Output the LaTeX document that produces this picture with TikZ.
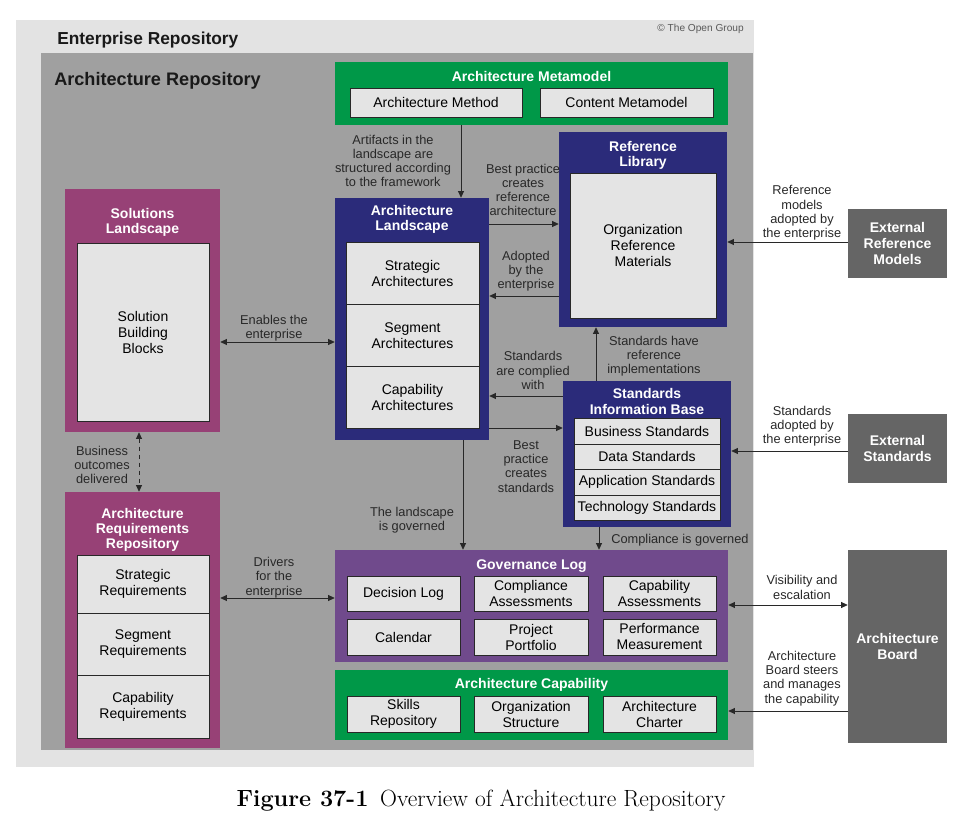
\documentclass[tikz,border=0pt]{standalone}
\usepackage{fontspec}
\setsansfont{Liberation Sans}
\usetikzlibrary{arrows.meta,fit}

\definecolor{entgrey}{RGB}{227,227,227}
\definecolor{arcgrey}{RGB}{160,160,160}
\definecolor{cellgrey}{RGB}{228,228,228}
\definecolor{mmgreen}{RGB}{0,152,72}
\definecolor{lsnavy}{RGB}{43,43,122}
\definecolor{slmagenta}{RGB}{151,65,118}
\definecolor{glpurple}{RGB}{112,74,140}
\definecolor{extgrey}{RGB}{101,101,101}
\definecolor{inkgrey}{RGB}{40,40,40}

\tikzset{
  panel/.style={fill=#1, inner sep=0pt},
  boxsize/.style 2 args={minimum width=#1*0.75pt, minimum height=#2*0.75pt},
  cell/.style={fill=cellgrey, draw=inkgrey, line width=0.6pt, inner sep=0pt, align=center, text=black, font=\sffamily\fontsize{10.5}{12}\selectfont},
  paneltitle/.style={text=white, align=center, inner sep=0pt, font=\sffamily\bfseries\fontsize{10.5}{11.3}\selectfont},
  extbox/.style={fill=extgrey, inner sep=0pt, text=white, align=center, font=\sffamily\bfseries\fontsize{10.5}{12}\selectfont},
  arrlabel/.style={align=center, text=inkgrey, inner sep=0pt, font=\sffamily\fontsize{9.6}{10.7}\selectfont},
  arr/.style={draw=inkgrey, line width=0.6pt, -{Triangle[length=5pt,width=4.5pt]}},
  darr/.style={arr, {Triangle[length=5pt,width=4.5pt]}-{Triangle[length=5pt,width=4.5pt]}},
}

\begin{document}
\begin{tikzpicture}[x=0.75pt, y=-0.75pt]
\useasboundingbox (0,0) rectangle (975,830);

% repositories
\node[panel=entgrey, fit={(16,20) (754,767)}] (ent) {};
\node[panel=arcgrey, fit={(41,53) (753,750)}] (arc) {};
\node[anchor=west, inner sep=0pt, text=black!90, font=\sffamily\bfseries\fontsize{13}{15}\selectfont] (entlbl) at (57,40) {Enterprise Repository};
\node[anchor=west, inner sep=0pt, text=black!90, font=\sffamily\bfseries\fontsize{13.6}{15}\selectfont] (arclbl) at (54,81) {Architecture Repository};
\node[anchor=east, inner sep=0pt, text=black!65, font=\sffamily\fontsize{7.6}{9}\selectfont] (copy) at (744,29) {\textcopyright{} The Open Group};

% architecture metamodel
\node[panel=mmgreen, fit={(335,62) (728,125)}] (meta) {};
\node[paneltitle] (metalbl) at (531.5,76.5) {Architecture Metamodel};
\node[cell, boxsize={172}{29}] (amethod) at (436,102.5) {Architecture Method};
\node[cell, boxsize={173}{29}] (cmeta) at (626.5,102.5) {Content Metamodel};

% architecture landscape
\node[panel=lsnavy, fit={(335,198) (489,440)}] (land) {};
\node[paneltitle] (landlbl) at (412,219) {Architecture\\Landscape};
\node[cell, boxsize={133}{62}] (lstrat) at (412.5,273.5) {Strategic\\Architectures};
\node[cell, boxsize={133}{62}] (lseg) at (412.5,335.5) {Segment\\Architectures};
\node[cell, boxsize={133}{62}] (lcap) at (412.5,397.5) {Capability\\Architectures};

% reference library
\node[panel=lsnavy, fit={(559,132) (727,327)}] (reflib) {};
\node[paneltitle] (reflbl) at (643,155.5) {Reference\\Library};
\node[cell, boxsize={146}{145}] (refmat) at (643,245.5) {Organization\\Reference\\Materials};

% solutions landscape
\node[panel=slmagenta, fit={(65,189) (220,432)}] (sol) {};
\node[paneltitle] (sollbl) at (142.5,222) {Solutions\\Landscape};
\node[cell, boxsize={132}{178}] (sbb) at (143,332) {Solution\\Building\\Blocks};

% architecture requirements repository
\node[panel=slmagenta, fit={(65,492) (220,748)}] (req) {};
\node[paneltitle] (reqlbl) at (142.5,529.5) {Architecture\\Requirements\\Repository};
\node[cell, boxsize={132}{58}] (rstrat) at (143,584) {Strategic\\Requirements};
\node[cell, boxsize={132}{62}] (rseg) at (143,644) {Segment\\Requirements};
\node[cell, boxsize={132}{63}] (rcap) at (143,706.5) {Capability\\Requirements};

% standards information base
\node[panel=lsnavy, fit={(563,381) (731,527)}] (sib) {};
\node[paneltitle] (siblbl) at (647,401.5) {Standards\\Information Base};
\node[cell, boxsize={146}{26}] (sbus) at (647,431) {Business Standards};
\node[cell, boxsize={146}{25}] (sdata) at (647,456.5) {Data Standards};
\node[cell, boxsize={146}{26}] (sapp) at (647,482) {Application Standards};
\node[cell, boxsize={146}{25}] (stech) at (647,507.5) {Technology Standards};

% governance log
\node[panel=glpurple, fit={(335,550) (728,662)}] (gov) {};
\node[paneltitle] (govlbl) at (531.5,566) {Governance Log};
\node[cell, boxsize={113}{35}] (declog) at (403.5,593.5) {Decision Log};
\node[cell, boxsize={114}{35}] (compass) at (531,593.5) {Compliance\\Assessments};
\node[cell, boxsize={113}{35}] (capass) at (659.5,593.5) {Capability\\Assessments};
\node[cell, boxsize={113}{36}] (calendar) at (403.5,637) {Calendar};
\node[cell, boxsize={114}{36}] (portfolio) at (531,637) {Project\\Portfolio};
\node[cell, boxsize={113}{36}] (perf) at (659.5,637) {Performance\\Measurement};

% architecture capability
\node[panel=mmgreen, fit={(335,670) (728,740)}] (cap) {};
\node[paneltitle] (caplbl) at (531.5,685) {Architecture Capability};
\node[cell, boxsize={113}{36}] (skills) at (403.5,714) {Skills\\Repository};
\node[cell, boxsize={114}{36}] (orgstr) at (531,714) {Organization\\Structure};
\node[cell, boxsize={113}{36}] (charter) at (659.5,714) {Architecture\\Charter};

% external
\node[extbox, boxsize={99}{69}] (extref) at (897.5,243.5) {External\\Reference\\Models};
\node[extbox, boxsize={99}{69}] (extstd) at (897.5,448.5) {External\\Standards};
\node[extbox, boxsize={99}{193}] (board) at (897.5,646.5) {Architecture\\Board};

% connectors
\draw[arr] (meta.south -| 461,0) -- (land.north -| 461,0);
\draw[arr] (land.east |- 0,224) -- (reflib.west |- 0,224);
\draw[arr] (reflib.west |- 0,296) -- (land.east |- 0,296);
\draw[arr] (extref.west |- 0,242) -- (reflib.east |- 0,242);
\draw[darr] (sol.east |- 0,342) -- (land.west |- 0,342);
\draw[darr, dashed] (sol.south -| 139,0) -- (req.north -| 139,0);
\draw[darr] (req.east |- 0,598) -- (gov.west |- 0,598);
\draw[arr] (land.south -| 463,0) -- (gov.north -| 463,0);
\draw[arr] (sib.north -| 596,0) -- (reflib.south -| 596,0);
\draw[arr] (sib.west |- 0,396) -- (land.east |- 0,396);
\draw[arr] (land.east |- 0,428) -- (sib.west |- 0,428);
\draw[arr] (extstd.west |- 0,451) -- (sib.east |- 0,451);
\draw[arr] (sib.south -| 599,0) -- (gov.north -| 599,0);
\draw[darr] (gov.east |- 0,605) -- (board.west |- 0,605);
\draw[arr] (board.west |- 0,711) -- (cap.east |- 0,711);

% connector labels
\node[arrlabel] (lblart) at (393,161) {Artifacts in the\\landscape are\\structured according\\to the framework};
\node[arrlabel] (lblbpra) at (523,190) {Best practice\\creates\\reference\\architecture};
\node[arrlabel] (lbladopt) at (526,271) {Adopted\\by the\\enterprise};
\node[arrlabel] (lblrefm) at (802,213) {Reference\\models\\adopted by\\the enterprise};
\node[arrlabel] (lblenab) at (274,328) {Enables the\\enterprise};
\node[arrlabel] (lblbus) at (102,465) {Business\\outcomes\\delivered};
\node[arrlabel] (lbldriv) at (274,577.5) {Drivers\\for the\\enterprise};
\node[arrlabel] (lblgov) at (412,520.5) {The landscape\\is governed};
\node[arrlabel] (lblstdref) at (654,356) {Standards have\\reference\\implementations};
\node[arrlabel] (lblcompl) at (533,370.5) {Standards\\are complied\\with};
\node[arrlabel] (lblbpstd) at (526,466.5) {Best\\practice\\creates\\standards};
\node[arrlabel] (lblstdad) at (802,426) {Standards\\adopted by\\the enterprise};
\node[arrlabel, anchor=west] (lblcgov) at (611,540) {Compliance is governed};
\node[arrlabel] (lblvis) at (802,587.5) {Visibility and\\escalation};
\node[arrlabel] (lblsteer) at (802,678.5) {Architecture\\Board steers\\and manages\\the capability};

% caption
\node[inner sep=0pt, font=\rmfamily\fontsize{17.6}{19}\selectfont] (caption) at (481,801) {\textbf{Figure 37-1}\enspace Overview of Architecture Repository};
\end{tikzpicture}
\end{document}
